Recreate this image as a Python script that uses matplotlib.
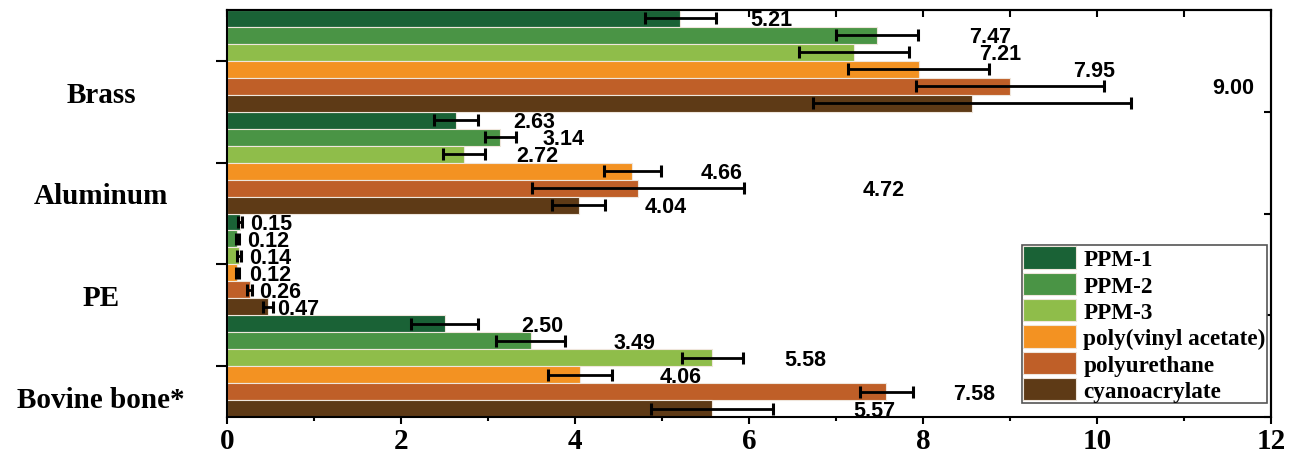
import matplotlib
matplotlib.use("Agg")
import matplotlib.pyplot as plt
import matplotlib.transforms as mtransforms
from matplotlib.patches import Patch
import numpy as np

# ---- data ----
materials = ["Brass", "Aluminum", "PE", "Bovine bone*"]
series = ["PPM-1", "PPM-2", "PPM-3", "poly(vinyl acetate)", "polyurethane", "cyanoacrylate"]
colors = ["#1a6236", "#4a9445", "#8fbd4a", "#f39222", "#bf5f28", "#5e3a16"]

# values[series][material]
values = {
    "PPM-1":               [5.21, 2.63, 0.15, 2.50],
    "PPM-2":               [7.47, 3.14, 0.12, 3.49],
    "PPM-3":               [7.21, 2.72, 0.14, 5.58],
    "poly(vinyl acetate)": [7.95, 4.66, 0.12, 4.06],
    "polyurethane":        [9.00, 4.72, 0.26, 7.58],
    "cyanoacrylate":       [8.56, 4.04, 0.47, 5.57],
}
errors = {
    "PPM-1":               [0.41, 0.25, 0.02, 0.38],
    "PPM-2":               [0.47, 0.18, 0.02, 0.40],
    "PPM-3":               [0.63, 0.24, 0.02, 0.35],
    "poly(vinyl acetate)": [0.81, 0.33, 0.02, 0.37],
    "polyurethane":        [1.08, 1.22, 0.03, 0.30],
    "cyanoacrylate":       [1.83, 0.31, 0.06, 0.70],
}
# printed value labels (None = no label) and where they sit along x
label_text = {
    "PPM-1":               ["5.21", "2.63", "0.15", "2.50"],
    "PPM-2":               ["7.47", "3.14", "0.12", "3.49"],
    "PPM-3":               ["7.21", "2.72", "0.14", "5.58"],
    "poly(vinyl acetate)": ["7.95", "4.66", "0.12", "4.06"],
    "polyurethane":        ["9.00", "4.72", "0.26", "7.58"],
    "cyanoacrylate":       [None,   "4.04", "0.47", "5.57"],
}
label_x = {
    "PPM-1":               [6.02, 3.29, 0.26, 3.38],
    "PPM-2":               [8.53, 3.63, 0.23, 4.44],
    "PPM-3":               [8.64, 3.33, 0.25, 6.40],
    "poly(vinyl acetate)": [9.73, 5.44, 0.25, 4.97],
    "polyurethane":        [11.32, 7.31, 0.37, 8.35],
    "cyanoacrylate":       [None,  4.80, 0.58, 7.20],
}
xticks = [0, 2, 4, 6, 8, 10, 12]

# ---- figure ----
fig = plt.figure(figsize=(12.9, 4.56), dpi=100)
ax = fig.add_axes([0.176, 0.0833, 0.8093, 0.8926])

serif_bold = dict(family="Liberation Serif", weight="bold")
sans_bold = dict(family="Liberation Sans", weight="bold")

n = len(series)
h = 1.0 / n
for j, s in enumerate(series):
    ys = [i - 0.5 + (j + 0.5) * h for i in range(len(materials))]
    ax.barh(ys, values[s], height=h, color=colors[j], edgecolor="#efe6dc",
            linewidth=0.8, zorder=2)
    ax.errorbar(values[s], ys, xerr=errors[s], fmt="none", ecolor="black",
                elinewidth=2.0, capsize=4.0, capthick=2.2, zorder=3)
    for i in range(len(materials)):
        t = label_text[s][i]
        if t is not None:
            ax.text(label_x[s][i], ys[i] + 0.015, t, ha="left", va="center",
                    fontsize=15.5, zorder=4, **sans_bold)

ax.set_xlim(0, 12)
ax.set_ylim(3.5, -0.5)

# x axis
ax.set_xticks(xticks)
ax.set_xticks(np.arange(1, 12, 2), minor=True)
ax.set_xticklabels([str(v) for v in xticks], fontsize=21, **serif_bold)
ax.tick_params(axis="x", which="major", direction="out", length=5, width=1.5, pad=2)
ax.tick_params(axis="x", which="minor", direction="out", length=3, width=1.5)
top = ax.secondary_xaxis("top")
top.set_xticks(xticks)
top.set_xticks(np.arange(1, 12, 2), minor=True)
top.set_xticklabels([])
top.tick_params(which="both", direction="in", length=5, width=1.5)
top.spines["top"].set_linewidth(1.5)

# y axis
ax.set_yticks(range(len(materials)))
ax.set_yticklabels([])
ax.tick_params(axis="y", direction="out", length=8, width=1.5)
right = ax.secondary_yaxis("right")
right.set_yticks([0.5, 1.5, 2.5, 3.5])
right.set_yticklabels([])
right.tick_params(direction="in", length=5, width=1.5)
right.spines["right"].set_linewidth(1.5)

trans = mtransforms.blended_transform_factory(ax.transAxes, ax.transData)
for i, m in enumerate(materials):
    ax.text(-0.1207, i + 0.40, m, transform=trans, ha="center", va="baseline",
            fontsize=21, **serif_bold)

for sp in ax.spines.values():
    sp.set_linewidth(1.5)

handles = [Patch(facecolor=c, edgecolor="#efe6dc", linewidth=0.8, label=s)
           for c, s in zip(colors, series)]
leg = ax.legend(handles=handles, loc="lower right", bbox_to_anchor=(0.996, 0.034),
                prop=dict(family="Liberation Serif", weight="bold", size=16.7),
                handlelength=2.3, handleheight=1.1, labelspacing=0.1,
                handletextpad=0.3, borderpad=0.05, borderaxespad=0,
                fancybox=False, framealpha=1)
leg.get_frame().set_edgecolor("#555555")
leg.get_frame().set_linewidth(1.2)

fig.savefig("out.png", dpi=100)
